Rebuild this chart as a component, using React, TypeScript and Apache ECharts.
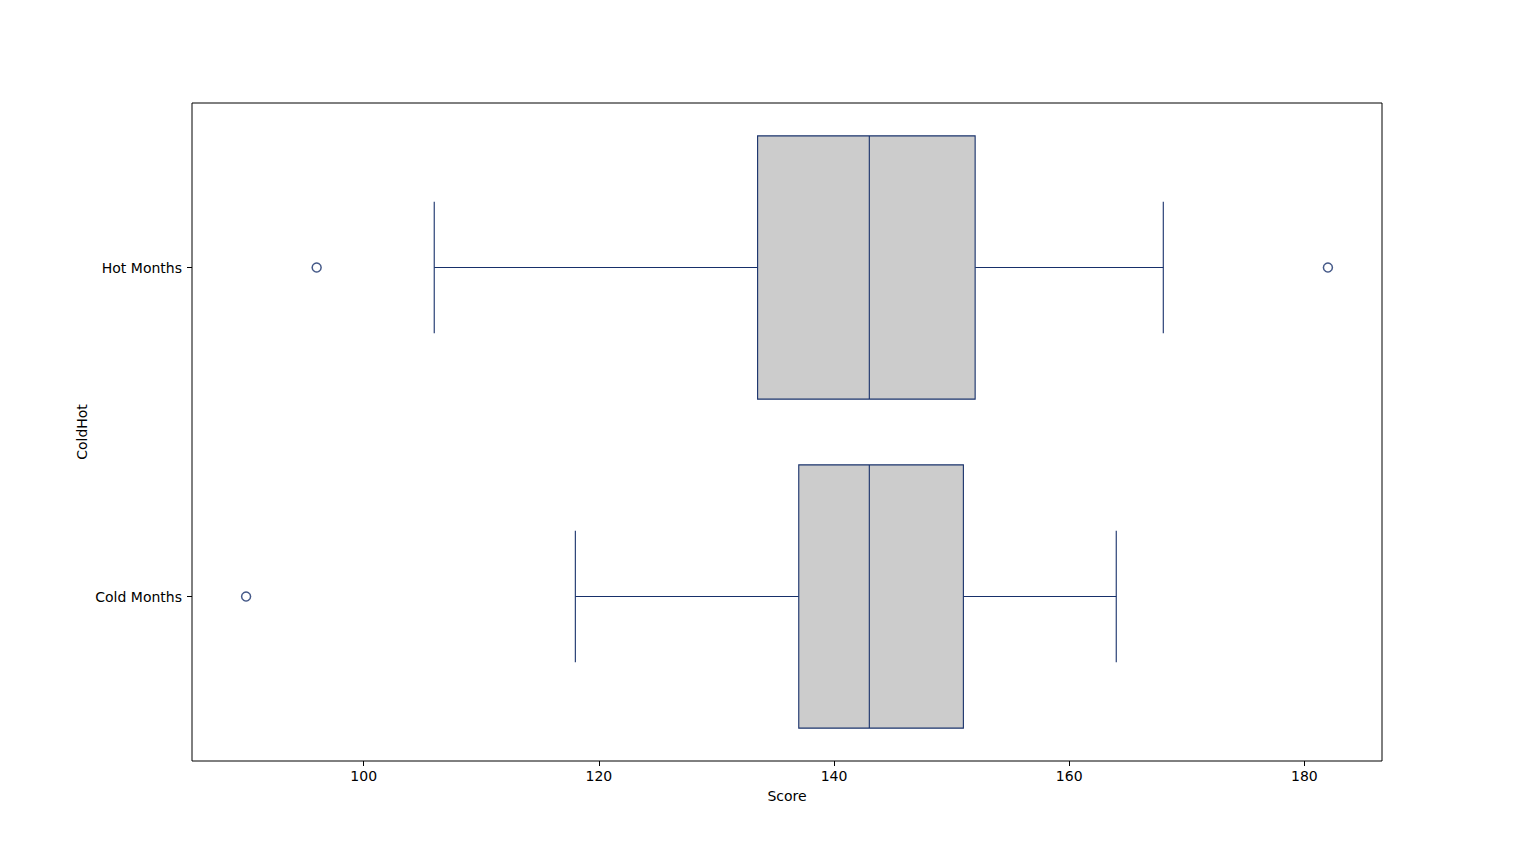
import React, { useEffect, useRef } from "react";
import * as echarts from "echarts";

// bottom to top on the category axis
const categories = ["Cold Months", "Hot Months"];
// [low whisker, Q1, median, Q3, high whisker]
const boxStats = [
  [118, 137, 143, 151, 164],
  [106, 133.5, 143, 152, 168],
];
// [category index, score]
const outliers = [
  [0, 90],
  [1, 96],
  [1, 182],
];
const xTicks = [100, 120, 140, 160, 180];

const EDGE = "#17306a";

const App: React.FC = () => {
  const chartRef = useRef<HTMLDivElement>(null);

  useEffect(() => {
    if (!chartRef.current) return;
    const chart = echarts.init(chartRef.current, undefined, { renderer: "svg" });

    const renderBox = (params: any, api: any) => {
      const cat = api.value(0);
      const low = api.value(1);
      const q1 = api.value(2);
      const med = api.value(3);
      const q3 = api.value(4);
      const high = api.value(5);
      const band = api.size([0, 1])[1];
      const boxH = band * 0.8;
      const capH = band * 0.4;
      const pLow = api.coord([low, cat]);
      const pQ1 = api.coord([q1, cat]);
      const pMed = api.coord([med, cat]);
      const pQ3 = api.coord([q3, cat]);
      const pHigh = api.coord([high, cat]);
      const y = pMed[1];
      const line = { stroke: EDGE, lineWidth: 1.1 };
      return {
        type: "group",
        children: [
          { type: "line", shape: { x1: pLow[0], y1: y, x2: pQ1[0], y2: y }, style: line },
          { type: "line", shape: { x1: pQ3[0], y1: y, x2: pHigh[0], y2: y }, style: line },
          { type: "line", shape: { x1: pLow[0], y1: y - capH / 2, x2: pLow[0], y2: y + capH / 2 }, style: line },
          { type: "line", shape: { x1: pHigh[0], y1: y - capH / 2, x2: pHigh[0], y2: y + capH / 2 }, style: line },
          {
            type: "rect",
            shape: { x: pQ1[0], y: y - boxH / 2, width: pQ3[0] - pQ1[0], height: boxH },
            style: { fill: "#cccccc", stroke: EDGE, lineWidth: 1.1 },
          },
          { type: "line", shape: { x1: pMed[0], y1: y - boxH / 2, x2: pMed[0], y2: y + boxH / 2 }, style: line },
        ],
      };
    };

    const option: any = {
      animation: false,
      backgroundColor: "#ffffff",
      textStyle: { fontFamily: "DejaVu Sans" },
      grid: {
        left: 192,
        top: 103,
        width: 1190,
        height: 658,
        show: true,
        borderColor: "#000000",
        borderWidth: 1,
        backgroundColor: "transparent",
      },
      xAxis: {
        type: "value",
        min: 85.4,
        max: 186.6,
        name: "Score",
        nameLocation: "middle",
        nameGap: 28,
        nameMoveOverlap: false,
        nameTextStyle: { color: "#000", fontSize: 14, verticalAlign: "top" },
        axisLine: { show: false },
        axisTick: { show: true, length: 5, customValues: xTicks, lineStyle: { color: "#000" } },
        axisLabel: { customValues: xTicks, color: "#000", fontSize: 14, margin: 8 },
        splitLine: { show: false },
      },
      yAxis: {
        type: "category",
        data: categories,
        name: "ColdHot",
        nameLocation: "middle",
        nameGap: 103,
        nameMoveOverlap: false,
        nameRotate: 90,
        nameTextStyle: { color: "#000", fontSize: 14 },
        axisLine: { show: false },
        axisTick: { show: true, length: 5, alignWithLabel: true, lineStyle: { color: "#000" } },
        axisLabel: { color: "#000", fontSize: 14, margin: 10 },
        splitLine: { show: false },
      },
      series: [
        {
          type: "custom",
          renderItem: renderBox,
          encode: { x: [1, 2, 3, 4, 5], y: 0 },
          data: boxStats.map((s, i) => [i, ...s]),
          z: 2,
        },
        {
          type: "scatter",
          data: outliers.map(([c, v]) => [v, c]),
          symbol: "circle",
          symbolSize: 9,
          itemStyle: { color: "transparent", borderColor: EDGE, borderWidth: 1.5 },
          z: 3,
        },
      ],
    };

    chart.setOption(option);
    return () => {
      chart.dispose();
    };
  }, []);

  return (
    <div
      ref={chartRef}
      style={{ position: "fixed", left: 0, top: 0, width: "1536px", height: "855px" }}
    />
  );
};

export default App;
